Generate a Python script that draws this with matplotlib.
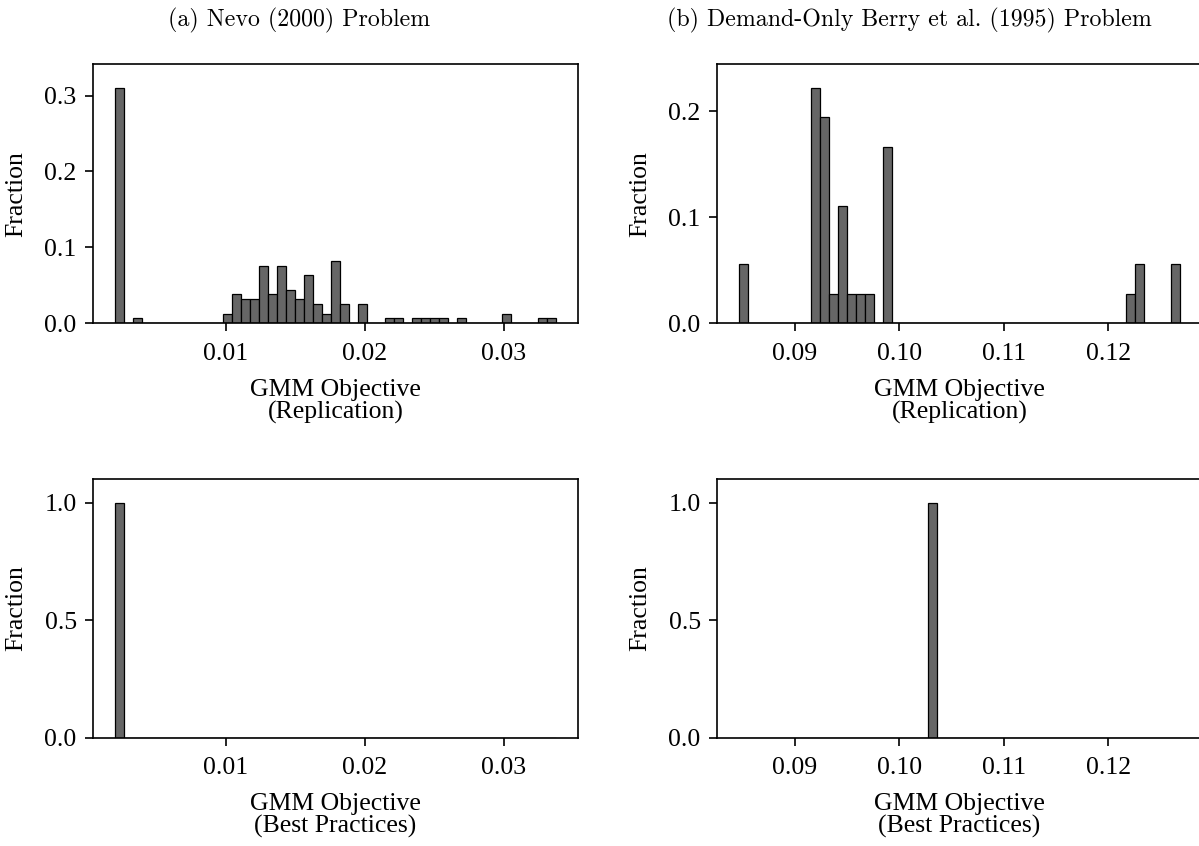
import numpy as np
import matplotlib
matplotlib.use("Agg")
import matplotlib.pyplot as plt
from matplotlib.ticker import MultipleLocator, FormatStrFormatter

# Histogram bin ranges (min / max of the GMM objective values) and bin count
nevo_range = (0.002062, 0.033717)
blp_range = (0.08470, 0.12684)
n_bins = 49

# Number of optimization runs falling in each bin
nevo_replication_counts = [
    49, 0, 1, 0, 0, 0, 0, 0, 0, 0,
    0, 0, 2, 6, 5, 5, 12, 6, 12, 7,
    5, 10, 4, 2, 13, 4, 0, 4, 0, 0,
    1, 1, 0, 1, 1, 1, 1, 0, 1, 0,
    0, 0, 0, 2, 0, 0, 0, 1, 1,
]
nevo_best_counts = [158] + [0] * 48

blp_replication_counts = [
    2, 0, 0, 0, 0, 0, 0, 0, 8, 7,
    1, 4, 1, 1, 1, 0, 6, 0, 0, 0,
    0, 0, 0, 0, 0, 0, 0, 0, 0, 0,
    0, 0, 0, 0, 0, 0, 0, 0, 0, 0,
    0, 0, 0, 1, 2, 0, 0, 0, 2,
]
blp_best_counts = [0] * 21 + [36] + [0] * 27

titles = ["(a) Nevo (2000) Problem",
          "(b) Demand-Only Berry et al. (1995) Problem"]
xlabels = ["GMM Objective\n(Replication)", "GMM Objective\n(Best Practices)"]
nevo_xticks = [0.01, 0.02, 0.03]
blp_xticks = [0.09, 0.10, 0.11, 0.12]

serif = "Liberation Serif"
fs = 18.5

W, H = 1199, 846
fig = plt.figure(figsize=(W / 100, H / 100), dpi=100)


def px_axes(left, top, right, bottom):
    return fig.add_axes([left / W, 1 - bottom / H, (right - left) / W, (bottom - top) / H])


ax_nr = px_axes(93.3, 64.3, 577.7, 323.3)
ax_nb = px_axes(93.3, 479.0, 577.7, 737.7)
ax_br = px_axes(717.3, 64.3, 1201.7, 323.3)
ax_bb = px_axes(717.3, 479.0, 1201.7, 737.7)

ax_nb.sharex(ax_nr)
ax_bb.sharex(ax_br)

panels = [
    (ax_nr, nevo_range, nevo_replication_counts, xlabels[0], nevo_xticks, 0.1),
    (ax_nb, nevo_range, nevo_best_counts, xlabels[1], nevo_xticks, 0.5),
    (ax_br, blp_range, blp_replication_counts, xlabels[0], blp_xticks, 0.1),
    (ax_bb, blp_range, blp_best_counts, xlabels[1], blp_xticks, 0.5),
]

for ax, rng, counts, xlabel, xticks, ystep in panels:
    edges = np.linspace(rng[0], rng[1], n_bins + 1)
    counts = np.asarray(counts, dtype=float)
    fractions = counts / counts.sum()
    ax.hist(edges[:-1], bins=edges, weights=fractions,
            color="#666666", edgecolor="black", linewidth=0.9)
    ax.margins(x=0.05, y=0.1)
    ax.set_xticks(xticks)
    ax.xaxis.set_major_formatter(FormatStrFormatter("%.2f"))
    ax.yaxis.set_major_locator(MultipleLocator(ystep))
    ax.yaxis.set_major_formatter(FormatStrFormatter("%.1f"))
    ax.set_xlabel(xlabel, fontsize=fs, family=serif, labelpad=10, linespacing=1.0)
    ax.set_ylabel("Fraction", fontsize=fs, family=serif, labelpad=12)
    ax.tick_params(axis="both", labelsize=fs, length=6, width=1.2)
    ax.tick_params(axis="x", pad=8, labelbottom=True)
    ax.tick_params(axis="y", pad=6)
    for lbl in ax.get_xticklabels() + ax.get_yticklabels():
        lbl.set_family(serif)
    for sp in ax.spines.values():
        sp.set_linewidth(1.2)

fig.text(299 / W, 1 - 20 / H, titles[0], family="cmr10", fontsize=17.2,
         ha="center", va="center")
fig.text(909 / W, 1 - 20 / H, titles[1], family="cmr10", fontsize=17.2,
         ha="center", va="center")

fig.savefig("out.png", dpi=100)
